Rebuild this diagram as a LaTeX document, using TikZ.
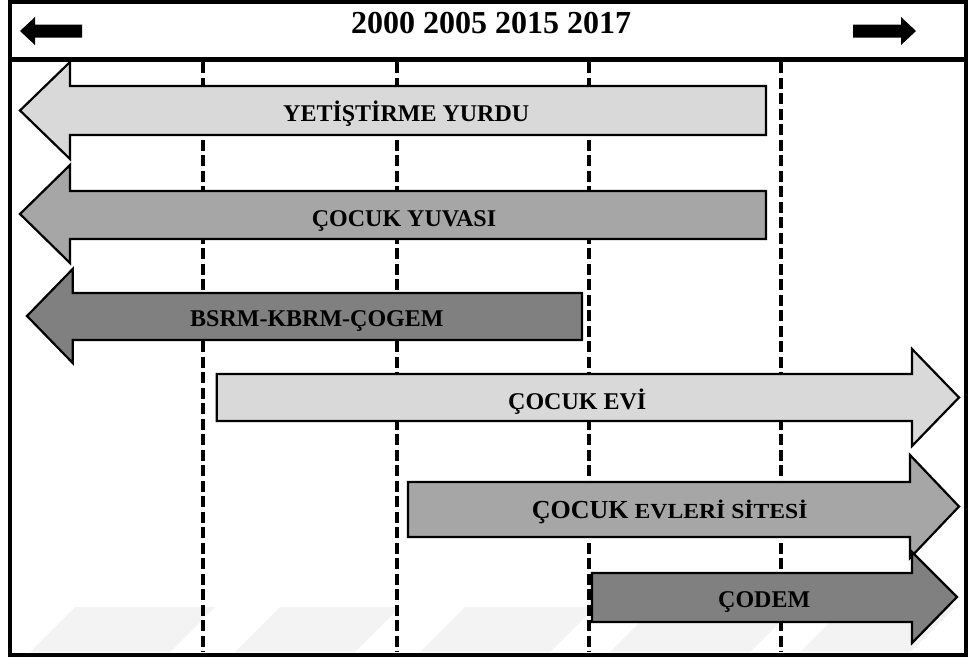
\documentclass[tikz,border=0pt]{standalone}
\usepackage{fontspec}
\usepackage{graphicx}
\setmainfont{Liberation Serif}
\definecolor{fillA}{HTML}{D9D9D9}
\definecolor{fillB}{HTML}{A6A6A6}
\definecolor{fillC}{HTML}{808080}
\definecolor{wmark}{HTML}{F3F3F3}
\begin{document}
\begin{tikzpicture}[x=1pt,y=-1pt,
  frameline/.style={line width=4pt,draw=black},
  yearline/.style={line width=3.5pt,draw=black,dash pattern=on 11pt off 4.5pt},
  arrowbody/.style={draw=black,line width=2.2pt,line join=miter},
  headarrow/.style={fill=black},
  lbl/.style={inner sep=0pt,anchor=base west,font=\fontsize{24}{29}\selectfont\bfseries},
  year/.style={inner sep=0pt,anchor=base,font=\fontsize{32}{38}\selectfont\bfseries}]
\useasboundingbox (0,0) rectangle (968,659);
\fill[white] (0,0) rectangle (968,659);
% faint watermark bands
\foreach \a/\w in {30/140,235/120,420/130,610/140,800/110}
  \fill[wmark] (\a,652) -- (\a+45,607) -- (\a+45+\w,607) -- (\a+\w,652) -- cycle;
% year lines
\foreach \xx in {203,397,589,781}
  \draw[yearline] (\xx,62) -- (\xx,652);
% frame
\draw[frameline] (10,2) rectangle (965.5,654.5);
\draw[line width=5pt] (10,59.5) -- (965.5,59.5);
% header
\node[year] (years) at (491,33) {2000 2005 2015 2017};
\fill[headarrow] (82,24.5) -- (35,24.5) -- (35,17) -- (20,31) -- (35,45) -- (35,37.5) -- (82,37.5) -- cycle;
\fill[headarrow] (853,24.5) -- (901,24.5) -- (901,17) -- (916,31) -- (901,45) -- (901,37.5) -- (853,37.5) -- cycle;
% left arrows
\draw[arrowbody,fill=fillA] (766,86) -- (70,86) -- (70,62) -- (20,110.5) -- (70,159) -- (70,135) -- (766,135) -- cycle;
\draw[arrowbody,fill=fillB] (766,191) -- (70,191) -- (70,165) -- (20,214) -- (70,263) -- (70,239) -- (766,239) -- cycle;
\draw[arrowbody,fill=fillC] (582,293) -- (72.7,293) -- (72.7,269) -- (27,316) -- (72.7,363) -- (72.7,340) -- (582,340) -- cycle;
% right arrows
\draw[arrowbody,fill=fillA] (216.7,374) -- (912,374) -- (912,349) -- (959,397.5) -- (912,446) -- (912,421) -- (216.7,421) -- cycle;
\draw[arrowbody,fill=fillB] (408,482) -- (910,482) -- (910,455) -- (959,506.5) -- (910,558) -- (910,537) -- (408,537) -- cycle;
\draw[arrowbody,fill=fillC] (592,573) -- (912,573) -- (912,552) -- (957,597) -- (912,643) -- (912,622) -- (592,622) -- cycle;
% labels
\node[lbl] (l1) at (283,121.5) {YETİŞTİRME YURDU};
\node[lbl] (l2) at (311.7,226.5) {ÇOCUK YUVASI};
\node[lbl] (l3) at (190,326.5) {BSRM-KBRM-ÇOGEM};
\node[lbl] (l4) at (508,409) {ÇOCUK EVİ};
\node[lbl] (l5) at (531.7,518) {{\fontsize{26}{30}\selectfont ÇOCUK} \scalebox{1.1}[1]{\fontsize{21.5}{26}\selectfont EVLERİ SİTESİ}};
\node[lbl] (l6) at (718,607) {ÇODEM};
\end{tikzpicture}
\end{document}
